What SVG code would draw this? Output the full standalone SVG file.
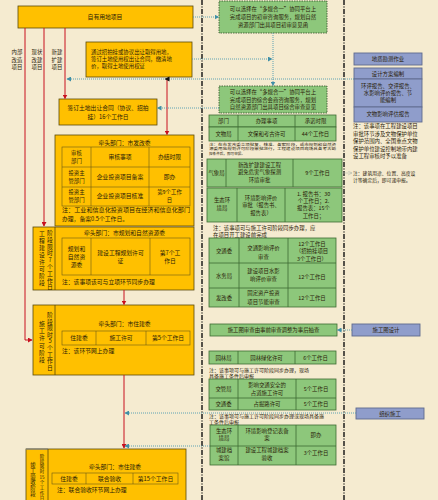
<svg xmlns="http://www.w3.org/2000/svg" width="438" height="500" viewBox="0 0 438 500">
<defs>
<style>
text{font-family:"Noto Sans CJK SC","Noto Sans",sans-serif;fill:#2a2108;font-size:5.8px}
.c{text-anchor:middle}
.s5{font-size:5.4px}
.s4{font-size:3.6px}
.y{fill:#ffc000;stroke:#5b4a08;stroke-width:0.8}
.yl{stroke:#6b5a14;stroke-width:0.6;fill:none}
.g{fill:#8dc77b;stroke:#3d6b33;stroke-width:0.8}
.gd{fill:#8dc77b;stroke:#2f4f27;stroke-width:0.8;stroke-dasharray:1.5 1}
.p{fill:#8f9dcb;stroke:#5f6b8f;stroke-width:0.9}
.red{stroke:#c8101e;stroke-width:1;fill:none}
.dot{stroke:#4f9ab0;stroke-width:0.9;stroke-dasharray:1 1;fill:none}
.dd{stroke:#111;stroke-width:1.4;stroke-dasharray:5 1.5 1 1.5;fill:none}
</style>
<marker id="ar" markerUnits="userSpaceOnUse" markerWidth="5" markerHeight="5" refX="4" refY="2.5" orient="auto"><path d="M0,0 L4.5,2.5 L0,5 z" fill="#c8101e"/></marker>
<marker id="at" markerUnits="userSpaceOnUse" markerWidth="5" markerHeight="5" refX="4" refY="2.5" orient="auto"><path d="M0,0 L4.5,2.5 L0,5 z" fill="#3f8fa6"/></marker>
<marker id="ag" markerUnits="userSpaceOnUse" markerWidth="5" markerHeight="5" refX="4" refY="2.5" orient="auto"><path d="M0,0.5 L4,2.5 L0,4.5" fill="none" stroke="#b5bcb0" stroke-width="0.6"/></marker>
</defs>
<rect width="438" height="500" fill="#f5ebd0"/>

<g id="dividers">
<line class="dd" x1="202" y1="0" x2="202" y2="500"/>
<line class="dd" x1="344" y1="0" x2="344" y2="500"/>
</g>

<g id="top">
<rect class="y" x="18" y="6" width="175" height="22"/>
<text class="c" x="105" y="19">自有用地项目</text>
</g>

<g id="labels">
<text class="c s5"><tspan x="17" y="54">内部</tspan><tspan x="17" y="62">改造</tspan><tspan x="17" y="69">项目</tspan></text>
<text class="c s5"><tspan x="37" y="54">现状</tspan><tspan x="37" y="62">改建</tspan><tspan x="37" y="69">项目</tspan></text>
<text class="c s5"><tspan x="57" y="54">新建</tspan><tspan x="57" y="62">扩建</tspan><tspan x="57" y="69">项目</tspan></text>
</g>

<g id="land">
<rect class="y" x="86" y="42" width="106" height="35"/>
<text class="s5"><tspan x="91" y="54">通过招拍挂或协议出让取得用地，</tspan><tspan x="91" y="61">签订土地使用权出让合同，缴清地</tspan><tspan x="91" y="68">价，取得土地使用权证</tspan></text>
</g>

<g id="contract">
<rect class="y" x="59" y="99" width="98" height="26"/>
<text class="c"><tspan x="108" y="110.3">签订土地出让合同（协议、招拍</tspan><tspan x="108" y="118.7">挂）16个工作日</tspan></text>
</g>

<g id="green1">
<rect class="gd" x="219" y="1" width="108" height="32"/>
<text class="c s5"><tspan x="273" y="11">可以选择在“多规合一”协同平台上</tspan><tspan x="273" y="19">完成项目的初审咨询服务，规划自然</tspan><tspan x="273" y="26.5">资源部门出具项目初审意见函</tspan></text>
</g>

<g id="green2">
<rect class="gd" x="219" y="86" width="108" height="27"/>
<text class="c s5"><tspan x="273" y="93.5">可以选择在“多规合一”协同平台上</tspan><tspan x="273" y="101.5">完成项目的综合会商咨询服务，规划</tspan><tspan x="273" y="109.3">自然资源部门出具项目综合审查意见</tspan></text>
</g>

<g id="purple">
<rect class="p" x="354" y="53" width="68" height="12"/>
<text class="c s5" x="388" y="61">地质勘测作业</text>
<rect class="p" x="354" y="68" width="68" height="11"/>
<text class="c s5" x="388" y="75.5">设计方案编制</text>
<rect class="p" x="354" y="79" width="68" height="28"/>
<text class="c s5"><tspan x="388" y="88">环评报告、交评报告、</tspan><tspan x="388" y="95.3">水影响评价报告、节</tspan><tspan x="388" y="102.3">能编制</tspan></text>
<rect class="p" x="354" y="107" width="68" height="15"/>
<text class="c s5" x="388" y="116.3">文物影响评估报告</text>
<rect class="p" x="352" y="324" width="68" height="12"/>
<text class="c s5" x="386" y="332">施工图设计</text>
<rect class="p" x="356" y="408" width="68" height="11"/>
<text class="c s5" x="390" y="415.8">组织施工</text>
</g>

<g id="relic">
<rect class="g" x="209" y="115" width="127" height="12"/>
<rect class="g" x="209" y="127" width="127" height="14"/>
<path style="stroke:#3d6b33;stroke-width:0.8" d="M238,115V141M295,115V141"/>
<text class="c s5" x="223.5" y="123">部门</text>
<text class="c s5" x="266.5" y="123">办理事项</text>
<text class="c s5" x="315.5" y="123">承诺时限</text>
<text class="c s5" x="223.5" y="136">文物局</text>
<text class="c s5" x="266.5" y="136">文保和考古许可</text>
<text class="c s5" x="315.5" y="136">44个工作日</text>
<text class="s4"><tspan x="209" y="145.8" textLength="127" lengthAdjust="spacingAndGlyphs">注：在市发改委立项批复、核准、备案阶段，或市规划和自然资</tspan><tspan x="209" y="150.3" textLength="127" lengthAdjust="spacingAndGlyphs">源委用地规划许可阶段审批进行，工程建设项目现场具备考古勘</tspan><tspan x="209" y="154.8">探条件后，即可申报。</tspan></text>
</g>

<g id="notes-right">
<text class="s5"><tspan x="353" y="128">注：该事项在工程建设项目</tspan><tspan x="353" y="135.5">审批环节涉及文物保护单位</tspan><tspan x="353" y="143">保护范围内、全国重点文物</tspan><tspan x="353" y="150.5">保护单位建设控制地带内建</tspan><tspan x="353" y="158">设工程审核时予以准备</tspan></text>
<text style="font-size:4.8px"><tspan x="353" y="175">注：建筑用途、位置、高度设</tspan><tspan x="353" y="182">计等确定后，即可递申报。</tspan></text>
</g>

<g id="weather">
<rect class="g" x="207" y="159" width="135" height="28"/>
<path style="stroke:#3d6b33;stroke-width:0.8" d="M226,159V187M293,159V187"/>
<text class="c s5" x="216.5" y="175">气象局</text>
<text class="c s5"><tspan x="259.5" y="167">新改扩建建设工程</tspan><tspan x="259.5" y="174.3">避免危害气象探测</tspan><tspan x="259.5" y="182">环境审批</tspan></text>
<text class="c s5" x="317.5" y="175">9个工作日</text>
</g>

<g id="eco1">
<rect class="g" x="207" y="188" width="135" height="34"/>
<path style="stroke:#3d6b33;stroke-width:0.8" d="M237,188V222M285,188V222"/>
<text class="c s5"><tspan x="222" y="202">生态环</tspan><tspan x="222" y="210.3">境局</tspan></text>
<text class="c s5"><tspan x="261" y="199.7">环境影响评价</tspan><tspan x="261" y="207">审批（报告书、</tspan><tspan x="261" y="215.3">报告表）</tspan></text>
<text class="c s5"><tspan x="313.5" y="196">1. 报告书：30</tspan><tspan x="313.5" y="203">个工作日；2.</tspan><tspan x="313.5" y="210.3">报告表：15个</tspan><tspan x="313.5" y="218">工作日；</tspan></text>
<text class="s5"><tspan x="213" y="230">注：该事项可与施工许可阶段同步办理，应</tspan><tspan x="213" y="237">在项目开工建设前完成</tspan></text>
</g>

<g id="traffic">
<rect class="g" x="209" y="238" width="127" height="69"/>
<path style="stroke:#3d6b33;stroke-width:0.8" d="M239,238V307M288,238V307M209,263H336M209,288H336"/>
<text class="c s5" x="224" y="252.5">交通委</text>
<text class="c s5"><tspan x="263.5" y="250.3">交通影响评价</tspan><tspan x="263.5" y="259">审查</tspan></text>
<text class="c s5"><tspan x="312" y="246.3">12个工作日</tspan><tspan x="312" y="253.3">（招拍挂项目</tspan><tspan x="312" y="261">3个工作日）</tspan></text>
<text class="c s5" x="224" y="277.5">水务局</text>
<text class="c s5"><tspan x="263.5" y="273">建设项目水影</tspan><tspan x="263.5" y="281">响评价审查</tspan></text>
<text class="c s5" x="312" y="278.7">12个工作日</text>
<text class="c s5" x="224" y="299.5">发改委</text>
<text class="c s5"><tspan x="263.5" y="295.3">固定资产投资</tspan><tspan x="263.5" y="303.7">项目节能审查</tspan></text>
<text class="c s5" x="312" y="299.7">12个工作日</text>
</g>

<g id="drawing-review">
<rect class="g" x="210" y="324" width="127" height="12"/>
<text class="c s5" x="273.5" y="332">施工图审查由事前审查调整为事后抽查</text>
</g>

<g id="garden">
<rect class="g" x="209" y="351" width="127" height="13"/>
<path style="stroke:#3d6b33;stroke-width:0.8" d="M238,351V364M295,351V364"/>
<text class="c s5" x="223.5" y="359.6">园林局</text>
<text class="c s5" x="266.5" y="359.6">园林绿化许可</text>
<text class="c s5" x="315.5" y="359.6">6个工作日</text>
<text style="font-size:5px"><tspan x="209" y="371.5">注：该事项可与施工许可阶段同步办理，现场</tspan><tspan x="209" y="377.6">具备施工条件后申报</tspan></text>
</g>

<g id="traffic2">
<rect class="g" x="209" y="379" width="127" height="31"/>
<path style="stroke:#3d6b33;stroke-width:0.8" d="M238,379V410M296,379V410M209,398H336"/>
<text class="c s5" x="223.5" y="390.5">交管局</text>
<text class="c s5"><tspan x="267" y="387">影响交通安全的</tspan><tspan x="267" y="394.7">占道施工许可</tspan></text>
<text class="c s5" x="316" y="391">5个工作日</text>
<text class="c s5" x="223.5" y="406">交通委</text>
<text class="c s5" x="267" y="406">占掘路许可</text>
<text class="c s5" x="316" y="406">5个工作日</text>
<text style="font-size:5px"><tspan x="209" y="417.6">注：该事项可与施工许可阶段同步办理或现场具备施</tspan><tspan x="209" y="423.6">工条件后申报</tspan></text>
</g>

<g id="eco2">
<rect class="g" x="210" y="425" width="126" height="40"/>
<path style="stroke:#3d6b33;stroke-width:0.8" d="M238,425V465M296,425V465M210,446H336"/>
<text class="c s5"><tspan x="224" y="433">生态环</tspan><tspan x="224" y="440.3">境局</tspan></text>
<text class="c s5"><tspan x="267" y="433">环境影响登记表备</tspan><tspan x="267" y="440.3">案</tspan></text>
<text class="c s5" x="316" y="437">即办</text>
<text class="c s5"><tspan x="224" y="452">城建档</tspan><tspan x="224" y="460.3">案馆</tspan></text>
<text class="c s5"><tspan x="267" y="452">建设工程城建档案</tspan><tspan x="267" y="460.3">验收</tspan></text>
<text class="c s5" x="316" y="455.3">3个工作日</text>
</g>

<g id="ndrc">
<rect class="y" x="55" y="135" width="139" height="91"/>
<text class="c" x="124.5" y="145.3">牵头部门：市发改委</text>
<rect class="yl" x="62" y="147" width="128" height="59"/>
<path class="yl" d="M91,147V206M149,147V206M62,167H190M62,187H190"/>
<text class="c s5"><tspan x="76.5" y="155">审核</tspan><tspan x="76.5" y="163">部门</tspan></text>
<text class="c" x="120" y="159">审核事项</text>
<text class="c" x="169.5" y="159">办结时限</text>
<text class="c s5"><tspan x="76.5" y="174.5">投资主</tspan><tspan x="76.5" y="182.7">管部门</tspan></text>
<text class="c" x="120" y="178.7">企业投资项目备案</text>
<text class="c" x="169.5" y="178.7">即办</text>
<text class="c s5"><tspan x="76.5" y="193.5">投资主</tspan><tspan x="76.5" y="202">管部门</tspan></text>
<text class="c" x="120" y="198">企业投资项目核准</text>
<text class="c s5"><tspan x="169.5" y="194">第9个工作</tspan><tspan x="169.5" y="202.3">日</tspan></text>
<text><tspan x="62" y="212" textLength="128" lengthAdjust="spacingAndGlyphs">注：工业和信息化投资项目在经济和信息化部门</tspan><tspan x="62" y="221">办理，备案0.5个工作日。</tspan></text>
</g>

<g id="stage-permit">
<rect class="y" x="33" y="227" width="161" height="63"/>
<line x1="55" y1="227" x2="55" y2="290" style="stroke:#5b4a08;stroke-width:0.8"/>
<text class="c" x="42 42 42 42 42 42 42 42" y="236 243 250 257 264 271 278 285">工程建设许可阶段</text>
<text class="c" x="50 50 50 50 50 50 50 50 50" y="235 241.8 248.6 255.4 262.2 269 275.8 282.6 289">阶段限时7个工作日</text>
<text class="c" x="124.5" y="234.5">牵头部门：市规划和自然资源委</text>
<rect class="yl" x="62" y="238" width="128" height="37"/>
<path class="yl" d="M91,238V275M150,238V275"/>
<text class="c"><tspan x="76.5" y="250.5">规划和</tspan><tspan x="76.5" y="258.5">自然资</tspan><tspan x="76.5" y="266.5">源委</tspan></text>
<text class="c"><tspan x="120.5" y="255.3">建设工程规划许可</tspan><tspan x="120.5" y="263">证</tspan></text>
<text class="c"><tspan x="170" y="255.3">第7个工</tspan><tspan x="170" y="263">作日</tspan></text>
<text x="62" y="284">注：该事项该可与立项环节同步办理</text>
</g>

<g id="stage-construction">
<rect class="y" x="33" y="305" width="161" height="70"/>
<line x1="55" y1="305" x2="55" y2="375" style="stroke:#5b4a08;stroke-width:0.8"/>
<text class="c" x="42 42 42 42 42 42" y="326 333.2 340.4 347.6 354.8 362">施工许可阶段</text>
<text class="c" x="50 50 50 50 50 50 50 50 50" y="317 323.6 330.2 336.8 343.4 350 356.6 363.2 369.8">阶段限时5个工作日</text>
<text class="c" x="124.5" y="326">牵头部门：市住建委</text>
<rect class="yl" x="62" y="331" width="128" height="14"/>
<path class="yl" d="M96,331V345M146,331V345"/>
<text class="c" x="79" y="340">住建委</text>
<text class="c" x="121" y="340">施工许可</text>
<text class="c" x="168" y="340">第5个工作日</text>
<text x="62" y="353">注：该环节网上办理</text>
</g>

<g id="stage-acceptance">
<rect class="y" x="26" y="449" width="160" height="56"/>
<line x1="26" y1="449" x2="48" y2="449" stroke="#8a8a80" stroke-width="1.4"/>
<line x1="48" y1="449" x2="48" y2="500" style="stroke:#5b4a08;stroke-width:0.8"/>
<text class="c" style="font-size:5.4px" x="33 33 33 33 33 33" y="467 472.8 478.6 484.4 490.2 496">竣工验收阶段</text>
<text class="c" style="font-size:4.5px" x="42 42 42 42" y="457.5 462.8 468.1 473.4">阶段限时</text>
<text class="c" style="font-size:4.5px" x="42" y="478.8">15</text>
<text class="c" style="font-size:4.5px" x="42 42 42 42" y="484.2 489.4 494.6 499.5">个工作日</text>
<text class="c" x="115" y="469">牵头部门：市住建委</text>
<rect class="yl" x="52" y="473" width="126" height="11"/>
<path class="yl" d="M86,473V484M133,473V484"/>
<text class="c" x="69" y="481">住建委</text>
<text class="c" x="109.5" y="481">联合验收</text>
<text class="c" x="155.5" y="481">第15个工作日</text>
<text x="57" y="492">注：联合验收环节网上办理</text>
</g>

<g id="connectors">
<polyline class="red" points="25,28 25,340 32,340" marker-end="url(#ar)"/>
<line class="red" x1="44" y1="28" x2="44" y2="226" marker-end="url(#ar)"/>
<line class="red" x1="65" y1="28" x2="65" y2="98.5" marker-end="url(#ar)"/>
<line class="red" x1="167" y1="79" x2="167" y2="134.5" marker-end="url(#ar)"/>
<line class="red" x1="124" y1="290" x2="124" y2="304.5" marker-end="url(#ar)"/>
<line class="red" x1="124" y1="375" x2="124" y2="448" marker-end="url(#ar)"/>
<line class="dot" x1="193" y1="17" x2="218.5" y2="17" marker-end="url(#at)"/>
<line class="dot" x1="192" y1="59" x2="272" y2="59" marker-end="url(#at)"/>
<line class="dot" x1="273" y1="33" x2="273" y2="85.5" marker-end="url(#at)"/>
<line class="dot" x1="354" y1="79" x2="67" y2="79" marker-end="url(#at)"/>
<path d="M164.5,79 L169.5,76.6 L169.5,81.4 z" fill="#111"/>
<line class="dot" x1="219" y1="108" x2="157.5" y2="108" marker-end="url(#at)"/>
<line x1="342" y1="173" x2="352" y2="173" stroke="#b5bcb0" stroke-width="0.6" marker-end="url(#ag)"/>
<line class="dot" x1="352" y1="330" x2="337.5" y2="330" marker-end="url(#at)"/>
<line class="dot" x1="356" y1="413" x2="125" y2="413" marker-end="url(#at)"/>
<line class="dot" x1="210" y1="446" x2="125" y2="446" marker-end="url(#at)"/>
</g>
</svg>
